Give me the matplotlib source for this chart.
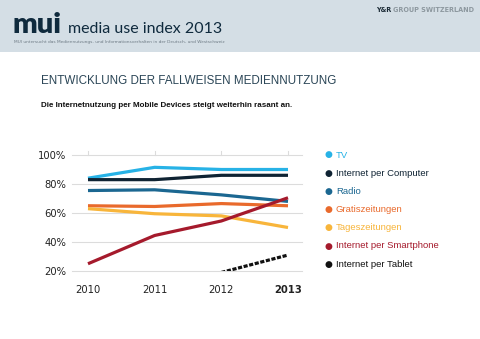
import matplotlib
matplotlib.use("Agg")
import matplotlib.pyplot as plt
from matplotlib.patches import Rectangle

# Fallweise Mediennutzung in Prozent, 2010-2013
years = [2010, 2011, 2012, 2013]
tv = [84, 91.5, 90, 90]
internet_computer = [83, 83, 86, 86]
radio = [75.5, 76, 72.5, 68]
gratiszeitungen = [65, 64.5, 66.5, 65]
tageszeitungen = [63, 59.5, 58, 50]
internet_smartphone = [25, 44.5, 54.5, 70.5]
tablet_years = [2012, 2013]
internet_tablet = [19, 31]

series = [
    ("TV", years, tv, "#27b2e6", "-"),
    ("Internet per Computer", years, internet_computer, "#0f2333", "-"),
    ("Radio", years, radio, "#1b6791", "-"),
    ("Gratiszeitungen", years, gratiszeitungen, "#e96a2c", "-"),
    ("Tageszeitungen", years, tageszeitungen, "#f8b53b", "-"),
    ("Internet per Smartphone", years, internet_smartphone, "#a51a2c", "-"),
    ("Internet per Tablet", tablet_years, internet_tablet, "#111111", (0, (1.3, 0.5))),
]
yticks = [20, 40, 60, 80, 100]

fig = plt.figure(figsize=(4.8, 3.39), dpi=100)
fig.patch.set_facecolor("white")

# header band
fig.patches.append(Rectangle((0, 1 - 52 / 339), 1, 52 / 339, transform=fig.transFigure,
                             facecolor="#d4dee5", edgecolor="none", zorder=0))
fig.text(13 / 480, 1 - 33 / 339, "mui", fontsize=21, color="#0f2a3d", fontweight="heavy",
         fontfamily="Lato", va="baseline", ha="left")
fig.text(68 / 480, 1 - 33 / 339, "media use index 2013", fontsize=11.5, color="#0f2a3d",
         fontfamily="Lato", va="baseline", ha="left")
fig.text(14 / 480, 1 - 43 / 339,
         "MUI untersucht das Mediennutzungs- und Informationsverhalten in der Deutsch- und Westschweiz",
         fontsize=3.1, color="#6d7a84", va="baseline", ha="left")
fig.text(391 / 480, 1 - 12.5 / 339, "Y&R", fontsize=4.7, color="#1c2b36", fontweight="bold",
         va="baseline", ha="right")
fig.text(393 / 480, 1 - 12.5 / 339, "GROUP SWITZERLAND", fontsize=4.7, color="#8d989f",
         fontweight="bold", va="baseline", ha="left")

fig.text(41 / 480, 1 - 84 / 339, "ENTWICKLUNG DER FALLWEISEN MEDIENNUTZUNG", fontsize=8.4,
         color="#2b4657", va="baseline", ha="left", fontfamily="Liberation Sans")
fig.text(41 / 480, 1 - 107 / 339, "Die Internetnutzung per Mobile Devices steigt weiterhin rasant an.",
         fontsize=5.8, color="#111111", fontweight="bold", va="baseline", ha="left",
         fontfamily="Liberation Sans")

ax = fig.add_axes([72 / 480, 1 - 271 / 339, 230 / 480, 116 / 339])
ax.set_xlim(2010 - 16 / 66.7, 2013 + 14 / 66.7)
ax.set_ylim(20, 100)
for s in ax.spines.values():
    s.set_visible(False)
for v in yticks:
    ax.axhline(v, color="#dcdcdc", lw=0.8, zorder=1, clip_on=False)
for yr in years:
    ax.plot([yr, yr], [100, 102.5], color="#dcdcdc", lw=0.8, clip_on=False, zorder=1)

for name, xs, ys, col, ls in series:
    ax.plot(xs, ys, color=col, lw=2.3, ls=ls, solid_capstyle="butt", zorder=3)

ax.set_yticks(yticks)
ax.set_yticklabels([f"{v}%" for v in yticks])
ax.set_xticks(years)
ax.set_xticklabels([str(y) for y in years])
ax.tick_params(length=0, labelsize=7.2, labelcolor="#222222", pad=4)
ax.tick_params(axis="x", pad=10)
ax.get_xticklabels()[-1].set_fontweight("bold")

# legend with coloured dots and labels
for i, (name, xs, ys, col, ls) in enumerate(series):
    y = 1 - (155 + i * 18.2) / 339
    fig.text(328 / 480, y, "\u25cf", color=col, fontsize=6.5, ha="center", va="center")
    fig.text(336 / 480, y, name, color=col, fontsize=6.8, ha="left", va="center",
             fontfamily="Liberation Sans")

fig.savefig("out.png", dpi=100)
